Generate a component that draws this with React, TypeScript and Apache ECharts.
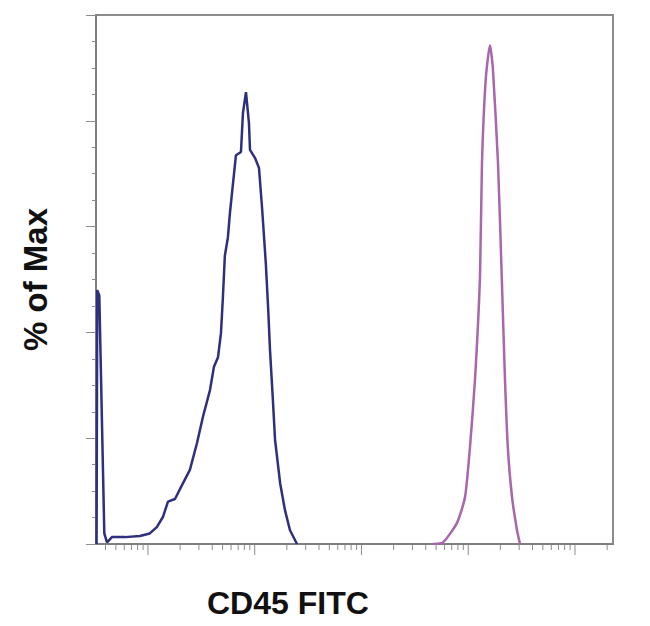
import React, { useEffect, useRef } from "react";
import * as echarts from "echarts";

// Blue histogram (isotype / unstained): [intensity, % of max]
const blueSeries: [number, number][] = [
  [3.3, 0], [3.35, 48.0], [3.5, 47.0], [3.9, 2.0], [4.13, 0.3], [4.6, 1.3],
  [6.1, 1.3], [8.4, 1.5], [10.4, 2.0], [12.1, 3.2], [13.8, 5.1], [15.4, 8.0],
  [17.9, 8.5], [21.3, 11.5], [24.7, 14.0], [28.8, 19.1], [32.7, 24.0],
  [38.1, 29.1], [41.5, 33.5], [45.3, 35.3], [48.3, 39.9], [50.3, 46.5],
  [52.5, 54.5], [56.1, 58.0], [58.6, 62.6], [66.7, 73.5], [74.3, 74.1],
  [77.6, 81.5], [82.8, 85.4], [88.3, 79.6], [90.3, 74.5], [100.5, 73.0],
  [109.6, 71.1], [117, 63.7], [127, 53.1], [134, 44.0], [139, 36.7],
  [148, 27.2], [155, 19.7], [173, 11.5], [192, 6.4], [214, 2.6], [249, 0],
];

// Pink histogram (CD45 FITC stained)
const pinkSeries: [number, number][] = [
  [4677, 0], [5797, 0.3], [7847, 4.0], [9333, 8.9], [10380, 18.3],
  [11560, 31.0], [12880, 50.5], [13450, 72.0], [14600, 88.0], [15990, 94.3],
  [17000, 90.0], [19000, 72.0], [20600, 50.5], [22100, 31.0], [23560, 17.8],
  [25700, 8.9], [28640, 2.6], [30550, 0],
];

const xMin = 3.26;
const xMax = 227000;
const xMajorTicks = [10, 100, 1000, 10000, 100000];
const xMinorMultipliers = [2, 3, 4, 5, 6, 7, 8, 9];
const xDecades = [1, 10, 100, 1000, 10000, 100000];

const yTitle = "% of Max";
const xTitle = "CD45 FITC";

export default function App() {
  const ref = useRef<HTMLDivElement>(null);

  useEffect(() => {
    if (!ref.current) return;
    const chart = echarts.init(ref.current, undefined, { renderer: "svg" });

    const tickData: [number, number, number][] = [];
    xMajorTicks.forEach((v) => tickData.push([v, 0, 10]));
    xDecades.forEach((d) =>
      xMinorMultipliers.forEach((m) => {
        const v = d * m;
        if (v > xMin && v < xMax) tickData.push([v, 0, 5]);
      })
    );

    const axisGray = "#7f7f7f";

    chart.setOption({
      animation: false,
      backgroundColor: "#ffffff",
      grid: {
        left: 96,
        top: 15,
        right: 37,
        bottom: 82,
        show: true,
        borderColor: "#8c8c8c",
        borderWidth: 2,
        backgroundColor: "transparent",
      },
      xAxis: {
        type: "log",
        logBase: 10,
        min: xMin,
        max: xMax,
        axisLine: { show: true, lineStyle: { color: axisGray, width: 2 } },
        axisTick: { show: false },
        axisLabel: { show: false },
        splitLine: { show: false },
        minorTick: { show: false },
        minorSplitLine: { show: false },
      },
      yAxis: {
        type: "value",
        min: 0,
        max: 100,
        interval: 20,
        name: yTitle,
        nameLocation: "middle",
        nameGap: 44,
        nameTextStyle: {
          fontSize: 33,
          fontWeight: "bold",
          fontFamily: "Liberation Sans",
          color: "#111111",
        },
        axisLine: { show: true, lineStyle: { color: axisGray, width: 2 } },
        axisTick: { show: true, length: 10, lineStyle: { color: "#8c8c8c", width: 1 } },
        minorTick: { show: true, splitNumber: 4, length: 4, lineStyle: { color: "#8c8c8c", width: 1 } },
        axisLabel: { show: false },
        splitLine: { show: false },
      },
      graphic: [
        {
          type: "text",
          left: 207,
          top: 587,
          style: {
            text: xTitle,
            font: 'bold 32px "Liberation Sans"',
            fill: "#111111",
          },
        },
      ],
      series: [
        {
          type: "custom",
          coordinateSystem: "cartesian2d",
          encode: { x: 0, y: 1 },
          clip: false,
          silent: true,
          z: 1,
          renderItem: (params: any, api: any) => {
            const p = api.coord([api.value(0), 0]);
            const len = api.value(2);
            return {
              type: "line",
              shape: { x1: p[0], y1: p[1] + 1, x2: p[0], y2: p[1] + 1 + len },
              style: { stroke: "#8c8c8c", lineWidth: 1 },
            };
          },
          data: tickData,
        },
        {
          type: "line",
          data: blueSeries,
          showSymbol: false,
          symbol: "none",
          lineStyle: { color: "#2e2f7e", width: 2.5 },
          z: 3,
        },
        {
          type: "line",
          data: pinkSeries,
          showSymbol: false,
          symbol: "none",
          smooth: 0.2,
          lineStyle: { color: "#a866ad", width: 2.5 },
          z: 3,
        },
      ],
    });

    return () => chart.dispose();
  }, []);

  return (
    <div
      ref={ref}
      style={{ position: "fixed", left: 0, top: 0, width: 650, height: 626, background: "#fff" }}
    />
  );
}
